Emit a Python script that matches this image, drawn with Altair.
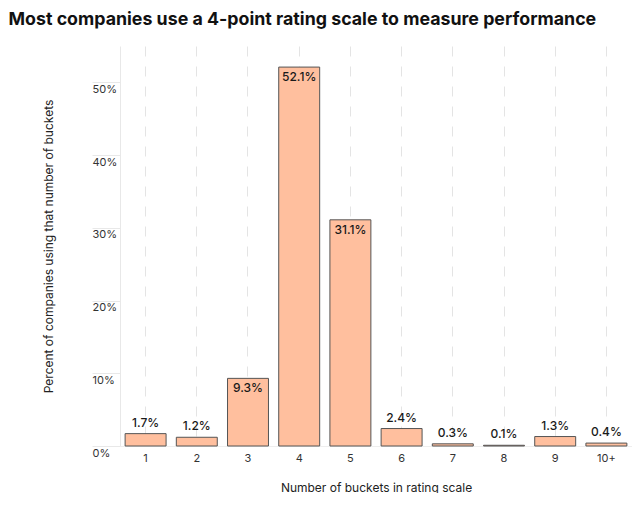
import altair as alt
import pandas as pd

buckets = ["1", "2", "3", "4", "5", "6", "7", "8", "9", "10+"]
percents = [1.7, 1.2, 9.3, 52.1, 31.1, 2.4, 0.3, 0.1, 1.3, 0.4]
y_ticks = [0, 10, 20, 30, 40, 50]

df = pd.DataFrame({"bucket": buckets, "pct": percents})
df["label"] = [f"{v:.1f}%" for v in percents]

FONT = "Inter"

x = alt.X(
    "bucket:N",
    sort=buckets,
    scale=alt.Scale(paddingInner=0.2, paddingOuter=0.1),
    axis=alt.Axis(
        title="Number of buckets in rating scale",
        labelAngle=0,
        ticks=False,
        labelPadding=6,
        labelFontSize=11,
        labelColor="#333333",
        titleFontSize=12,
        titleFontWeight="normal",
        titleColor="#222222",
        titlePadding=19,
        grid=True,
        gridDash=[10, 10],
        gridColor="#e4e4e4",
        domainColor="#eeeeee",
    ),
)
y = alt.Y(
    "pct:Q",
    scale=alt.Scale(domain=[0, 55], nice=False),
    axis=alt.Axis(
        title="Percent of companies using that number of buckets",
        values=y_ticks,
        labelExpr="datum.value + '%'",
        grid=False,
        tickSize=28,
        tickColor="#e8e8e8",
        domainColor="#e8e8e8",
        labelAlign="left",
        labelBaseline="top",
        labelPadding=0,
        labelOffset=1,
        labelFontSize=11,
        labelColor="#333333",
        titleFontSize=12,
        titleFontWeight="normal",
        titleColor="#222222",
        titlePadding=36,
    ),
)

bars = alt.Chart(df).mark_bar(
    fill="#FFBF9E", stroke="#555555", strokeWidth=1
).encode(x=x, y=y)

outside = alt.Chart(df).transform_filter("datum.pct < 5").mark_text(
    baseline="bottom", dy=-4, fontSize=12, fontWeight=500, color="#1a1a1a", font=FONT
).encode(x=x, y=y, text="label:N")

inside = alt.Chart(df).transform_filter("datum.pct >= 5").mark_text(
    baseline="top", dy=5, fontSize=12, fontWeight=500, color="#1a1a1a", font=FONT
).encode(x=x, y=y, text="label:N")

chart = alt.layer(bars, outside, inside).properties(
    width=512,
    height=400,
    padding={"left": 0, "top": 3, "right": 0, "bottom": 0},
    title=alt.TitleParams(
        "Most companies use a 4-point rating scale to measure performance",
        anchor="start",
        frame="bounds",
        dx=-34,
        fontSize=17.8,
        fontWeight="bold",
        font=FONT,
        color="#111111",
        offset=17,
    ),
).configure(font=FONT).configure_view(stroke=None)

chart.save("out.html", embed_options={"renderer": "svg", "actions": False})
